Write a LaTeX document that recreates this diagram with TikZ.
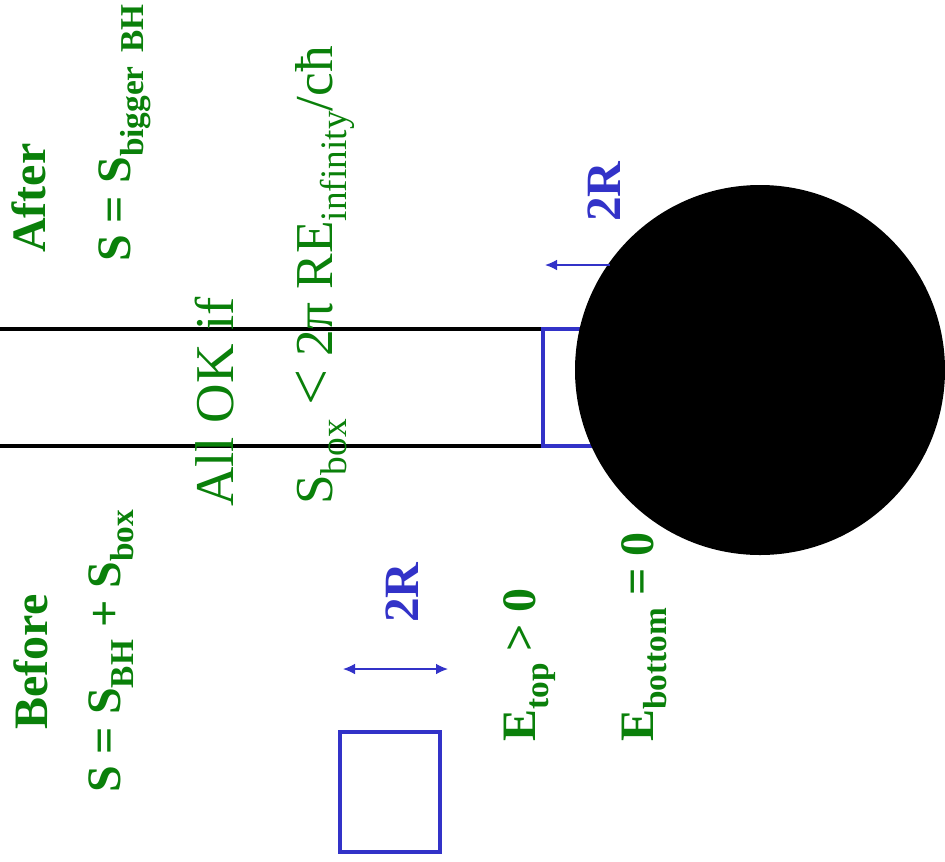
\documentclass[tikz,border=0pt]{standalone}
\usepackage{fontspec}
\setmainfont{Liberation Serif}
\usetikzlibrary{arrows.meta}
\definecolor{txtgreen}{RGB}{10,128,10}
\definecolor{boxblue}{RGB}{50,50,200}
\newcommand\dn[3]{\raisebox{-#1}{\fontsize{#2}{#2}\selectfont #3}}
\begin{document}
\begin{tikzpicture}[x=0.75pt,y=-0.75pt,
  lbl/.style={rotate=90,anchor=base west,inner sep=0pt,text=txtgreen},
  bigbold/.style={lbl,font=\fontsize{36}{40}\selectfont\bfseries},
  bigreg/.style={lbl,font=\fontsize{41}{46}\selectfont},
  rlbl/.style={rotate=90,anchor=base west,inner sep=0pt,text=boxblue,font=\fontsize{37}{40}\selectfont\bfseries},
  wall/.style={black,line width=2.4pt},
  blubox/.style={draw=boxblue,line width=3pt},
  dim/.style={boxblue,line width=1pt,-{Latex[length=9pt,width=8pt]}},
  dimd/.style={boxblue,line width=1pt,{Latex[length=9pt,width=8pt]}-{Latex[length=9pt,width=8pt]}}]
\useasboundingbox (0,0) rectangle (945,861);
% walls
\coordinate (w1a) at (0,329); \coordinate (w1b) at (543,329);
\coordinate (w2a) at (0,446); \coordinate (w2b) at (543,446);
\draw[wall] (w1a) -- (w1b);
\draw[wall] (w2a) -- (w2b);
% box after
\draw[blubox] (543,329) rectangle (659,446);
% black hole
\fill[black] (760,370) circle (185);
% top arrow
\coordinate (a1s) at (610,265); \coordinate (a1e) at (545,265);
\draw[dim] (a1s) -- (a1e);
\node[rlbl] (r2top) at (620,222) {2R};
% before box
\draw[blubox] (340,732) rectangle (440,852);
\coordinate (a2s) at (343,669); \coordinate (a2e) at (448,669);
\draw[dimd] (a2s) -- (a2e);
\node[rlbl] (r2bef) at (418,623) {2R};
% texts
\node[bigbold] (after) at (45,253) {After};
\node[bigbold] (safter) at (130,262) {S = S\dn{10pt}{25pt}{bigger\hspace{0.4em}BH}};
\node[bigbold] (before) at (47,730) {Before};
\node[bigbold] (sbefore) at (120,793) {S = S\dn{10pt}{25pt}{BH} + S\dn{10pt}{25pt}{box}};
\node[bigreg] (allok) at (233,507) {All OK if};
\node[bigreg,font=\fontsize{40}{44}\selectfont] (cond) at (332,505) {S\dn{11pt}{28pt}{box}\ {\fontsize{48}{48}\selectfont\textless}\ 2π RE\dn{11pt}{28pt}{infinity}/cħ};
\node[bigbold] (etop) at (535,742) {E\dn{10pt}{25pt}{top} \textgreater\ 0};
\node[bigbold] (ebot) at (653,742) {E\dn{10pt}{25pt}{bottom} = 0};
\end{tikzpicture}
\end{document}
